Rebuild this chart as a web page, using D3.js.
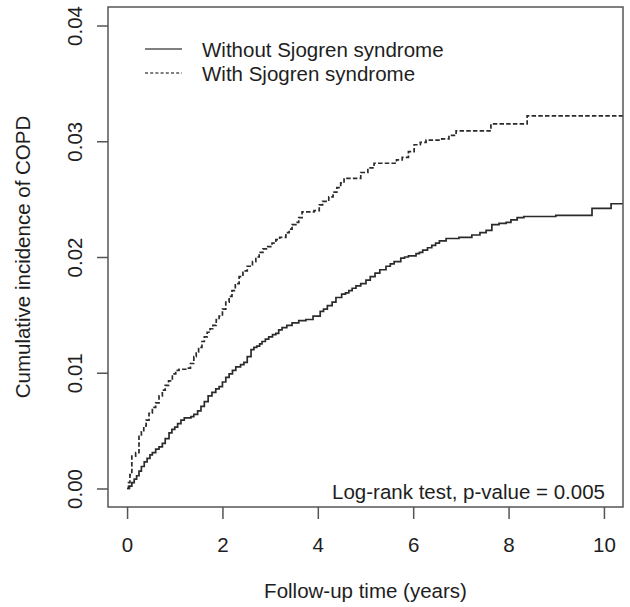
<!DOCTYPE html>
<html>
<head>
<meta charset="utf-8">
<script src="https://cdn.jsdelivr.net/npm/d3@7"></script>
<style>
  html, body { margin: 0; padding: 0; background: #fff; }
  svg { display: block; }
  text { font-family: "Liberation Sans", Arial, sans-serif; fill: #1e1e1e; }
</style>
</head>
<body>
<svg id="chart" width="630" height="607"></svg>
<script>
// ---- data ----
const seriesNames = ["Without Sjogren syndrome", "With Sjogren syndrome"];
const xTicks = [0, 2, 4, 6, 8, 10];
const yTicks = [0.00, 0.01, 0.02, 0.03, 0.04];
const yTickLabels = ["0.00", "0.01", "0.02", "0.03", "0.04"];
const xTitle = "Follow-up time (years)";
const yTitle = "Cumulative incidence of COPD";
const noteText = "Log-rank test, p-value = 0.005";

const withoutTime = [0,0.05,0.1,0.15,0.2,0.25,0.3,0.36,0.42,0.48,0.53,0.6,0.67,0.74,0.8,0.88,0.94,1.0,1.06,1.13,1.2,1.34,1.4,1.48,1.55,1.62,1.7,1.78,1.86,1.93,2.0,2.07,2.14,2.21,2.28,2.38,2.45,2.52,2.6,2.66,2.72,2.78,2.83,2.9,2.97,3.05,3.12,3.18,3.25,3.35,3.46,3.6,3.75,3.9,4.05,4.12,4.2,4.3,4.38,4.5,4.58,4.65,4.72,4.8,4.9,5.01,5.1,5.2,5.3,5.43,5.52,5.6,5.74,5.82,5.9,6.06,6.13,6.2,6.3,6.39,6.47,6.55,6.69,6.96,7.23,7.4,7.53,7.65,7.8,7.95,8.05,8.18,8.32,8.99,9.75,10.15,10.4];
const withoutCum = [0,0.0002,0.0005,0.0008,0.0011,0.0015,0.0019,0.0023,0.0026,0.0029,0.0031,0.0034,0.0036,0.0039,0.0043,0.0048,0.0051,0.0053,0.0056,0.0059,0.0061,0.0062,0.0064,0.0067,0.0071,0.0075,0.0080,0.0083,0.0086,0.0088,0.0092,0.0096,0.0099,0.0102,0.0105,0.0107,0.0109,0.0114,0.0120,0.0122,0.0123,0.0125,0.0127,0.0129,0.0131,0.0133,0.0134,0.0137,0.0139,0.0141,0.0143,0.0145,0.0146,0.0149,0.0153,0.0155,0.0158,0.0161,0.0165,0.0168,0.0169,0.0171,0.0173,0.0175,0.0177,0.0180,0.0183,0.0186,0.0189,0.0192,0.0194,0.0196,0.0199,0.0200,0.0201,0.0203,0.0204,0.0206,0.0208,0.0210,0.0212,0.0214,0.0216,0.0217,0.0219,0.0221,0.0223,0.0228,0.0229,0.0230,0.0232,0.0234,0.0235,0.0236,0.0242,0.0246,0.0246];

const withTime = [0,0.03,0.06,0.1,0.18,0.25,0.3,0.35,0.4,0.46,0.53,0.6,0.67,0.74,0.8,0.87,0.95,1.02,1.09,1.26,1.33,1.4,1.45,1.5,1.57,1.62,1.68,1.74,1.8,1.87,1.93,2.0,2.07,2.14,2.2,2.27,2.35,2.43,2.52,2.63,2.7,2.77,2.85,2.95,3.04,3.12,3.2,3.33,3.4,3.46,3.54,3.6,3.67,3.92,4.03,4.1,4.23,4.32,4.4,4.48,4.55,4.9,5.05,5.18,5.5,5.65,5.77,5.9,6.02,6.15,6.27,6.6,6.75,6.9,7.63,8.39,10.4];
const withCum = [0,0.0005,0.0012,0.0028,0.0031,0.0045,0.0049,0.0054,0.0059,0.0065,0.0070,0.0074,0.0080,0.0085,0.0089,0.0093,0.0099,0.0102,0.0103,0.0104,0.0108,0.0114,0.0118,0.0122,0.0127,0.0131,0.0135,0.0138,0.0141,0.0146,0.0149,0.0155,0.0161,0.0166,0.0171,0.0177,0.0183,0.0188,0.0192,0.0196,0.0200,0.0204,0.0207,0.0209,0.0212,0.0215,0.0217,0.0221,0.0224,0.0228,0.0230,0.0234,0.0239,0.0240,0.0245,0.0248,0.0252,0.0256,0.0260,0.0264,0.0268,0.0273,0.0277,0.0281,0.0281,0.0284,0.0286,0.0291,0.0297,0.0299,0.0301,0.0302,0.0305,0.0309,0.0315,0.0322,0.0322];

// ---- layout ----
const svg = d3.select("#chart");
const box = { left: 108, right: 623, top: 7, bottom: 507 };

const x = d3.scaleLinear().domain([-0.4, 10.4]).range([box.left, box.right]);
const y = d3.scaleLinear().domain([-0.0016, 0.0416]).range([box.bottom, box.top]);

const ink = "#2b2b2b";
const fontSize = "20.5px";

svg.append("defs").append("clipPath").attr("id", "plotclip")
  .append("rect")
  .attr("x", box.left).attr("y", box.top)
  .attr("width", box.right - box.left).attr("height", box.bottom - box.top);

const line = d3.line()
  .x(d => x(d[0]))
  .y(d => y(d[1]))
  .curve(d3.curveStepAfter);

const withoutData = withoutTime.map((t, i) => [t, withoutCum[i]]);
const withData = withTime.map((t, i) => [t, withCum[i]]);

const g = svg.append("g").attr("clip-path", "url(#plotclip)");
g.append("path").datum(withoutData)
  .attr("d", line).attr("fill", "none")
  .attr("stroke", ink).attr("stroke-width", 1.7);
g.append("path").datum(withData)
  .attr("d", line).attr("fill", "none")
  .attr("stroke", ink).attr("stroke-width", 1.7)
  .attr("stroke-dasharray", "4.5,2.2");

svg.append("rect")
  .attr("x", box.left).attr("y", box.top)
  .attr("width", box.right - box.left).attr("height", box.bottom - box.top)
  .attr("fill", "none").attr("stroke", "#555").attr("stroke-width", 1.5);

const xAxis = d3.axisBottom(x).tickValues(xTicks).tickSize(12).tickPadding(0).tickFormat(d3.format("d"));
const xg = svg.append("g").attr("transform", `translate(0,${box.bottom})`).call(xAxis);
xg.select(".domain").remove();
xg.selectAll(".tick line").attr("stroke", "#555").attr("stroke-width", 1.5);
xg.selectAll(".tick text")
  .attr("y", 45).attr("dy", null)
  .style("font-size", fontSize).style("font-family", "Liberation Sans, Arial, sans-serif")
  .attr("fill", "#1e1e1e");

const yAxis = d3.axisLeft(y).tickValues(yTicks).tickSize(11).tickFormat((d, i) => yTickLabels[i]);
const yg = svg.append("g").attr("transform", `translate(${box.left},0)`).call(yAxis);
yg.select(".domain").remove();
yg.selectAll(".tick line").attr("stroke", "#555").attr("stroke-width", 1.5);
yg.selectAll(".tick text")
  .attr("x", null).attr("dy", null)
  .attr("text-anchor", "middle")
  .attr("transform", "translate(-26,0) rotate(-90)")
  .style("font-size", fontSize).style("font-family", "Liberation Sans, Arial, sans-serif")
  .attr("fill", "#1e1e1e");

svg.append("text")
  .attr("x", (x(0) + x(10)) / 2).attr("y", 598)
  .attr("text-anchor", "middle").style("font-size", fontSize)
  .text(xTitle);

svg.append("text")
  .attr("transform", `translate(30,${(box.top + box.bottom) / 2}) rotate(-90)`)
  .attr("text-anchor", "middle").style("font-size", fontSize)
  .text(yTitle);

svg.append("text")
  .attr("x", 605).attr("y", 499)
  .attr("text-anchor", "end").style("font-size", fontSize)
  .text(noteText);

const legend = svg.append("g");
const legY = [49, 73];
const legDash = [null, "3,2.2"];
seriesNames.forEach((name, i) => {
  legend.append("line")
    .attr("x1", 145).attr("x2", 182)
    .attr("y1", legY[i]).attr("y2", legY[i])
    .attr("stroke", "#555").attr("stroke-width", 1.3)
    .attr("stroke-dasharray", legDash[i]);
  legend.append("text")
    .attr("x", 202).attr("y", legY[i] + 8)
    .style("font-size", fontSize)
    .text(name);
});
</script>
</body>
</html>
